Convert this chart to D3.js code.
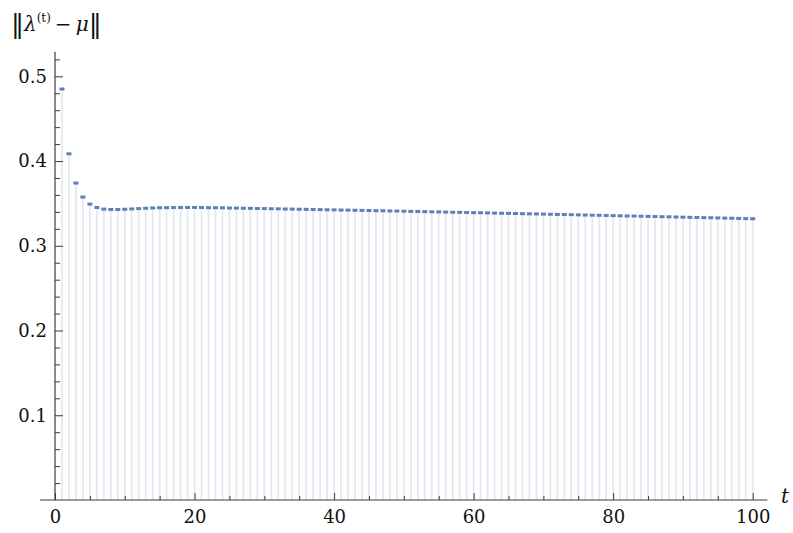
<!DOCTYPE html>
<html>
<head>
<meta charset="utf-8">
<script src="https://cdn.jsdelivr.net/npm/d3@7"></script>
<style>
  html, body { margin: 0; padding: 0; background: #fff; }
  svg { display: block; }
</style>
</head>
<body>
<svg id="chart" width="793" height="533"></svg>
<script>
// Distance ‖λ(t) − μ‖ per iteration t
const steps = d3.range(1, 101);
const distances = [
  0.4850, 0.4085, 0.3740, 0.3575, 0.3492, 0.3452, 0.3433, 0.3428, 0.3428, 0.3431,
  0.3435, 0.3439, 0.3443, 0.3446, 0.3449, 0.3450, 0.3451, 0.3452, 0.3452, 0.3452,
  0.3451, 0.3450, 0.3449, 0.3448, 0.3446, 0.3445, 0.3443, 0.3442, 0.3440, 0.3439,
  0.3437, 0.3436, 0.3434, 0.3433, 0.3431, 0.3430, 0.3428, 0.3427, 0.3425, 0.3424,
  0.3422, 0.3421, 0.3419, 0.3418, 0.3416, 0.3414, 0.3413, 0.3411, 0.3410, 0.3408,
  0.3406, 0.3405, 0.3403, 0.3401, 0.3400, 0.3398, 0.3396, 0.3395, 0.3393, 0.3391,
  0.3390, 0.3388, 0.3386, 0.3384, 0.3383, 0.3381, 0.3379, 0.3377, 0.3376, 0.3374,
  0.3372, 0.3370, 0.3369, 0.3367, 0.3365, 0.3363, 0.3361, 0.3360, 0.3358, 0.3356,
  0.3354, 0.3352, 0.3351, 0.3349, 0.3347, 0.3345, 0.3343, 0.3342, 0.3340, 0.3338,
  0.3336, 0.3334, 0.3332, 0.3331, 0.3329, 0.3327, 0.3325, 0.3323, 0.3321, 0.3319
];
const xMajorTicks = [0, 20, 40, 60, 80, 100];
const xMinorTicks = d3.range(5, 100, 5).filter(v => v % 20 !== 0);
const yMajorTicks = [0.1, 0.2, 0.3, 0.4, 0.5];
const yMinorTicks = d3.range(1, 27).map(i => +(i * 0.02).toFixed(2)).filter(v => Math.round(v * 100) % 10 !== 0);

const FONT = "'DejaVu Serif', serif";
const svg = d3.select("#chart");
const x = d3.scaleLinear().domain([0, 100]).range([55, 752.7]);
const y = d3.scaleLinear().domain([0, 0.5]).range([500, 76.3]);

const axisColor = "#3a3a3a";

// stems from the axis to each value
svg.append("g").selectAll("line")
  .data(steps)
  .join("line")
  .attr("x1", d => x(d)).attr("x2", d => x(d))
  .attr("y1", y(0)).attr("y2", (d, i) => y(distances[i]))
  .attr("stroke", "#e4e9f1")
  .attr("stroke-width", 1.8);

// point markers
svg.append("g").selectAll("rect")
  .data(steps)
  .join("rect")
  .attr("x", d => x(d) - 2.5)
  .attr("y", (d, i) => y(distances[i]) - 1.5)
  .attr("width", 5).attr("height", 3)
  .attr("fill", "#5e81b5");

// x axis
const gx = svg.append("g").attr("transform", `translate(0,${y(0)})`);
gx.call(d3.axisBottom(x).tickValues(xMajorTicks).tickFormat(d3.format("d"))
  .tickSizeInner(-7).tickSizeOuter(0).tickPadding(10));
gx.append("g").call(d3.axisBottom(x).tickValues(xMinorTicks).tickFormat("")
  .tickSizeInner(-4).tickSizeOuter(0));
gx.selectAll(".domain").remove();
gx.selectAll(".tick line").attr("stroke", axisColor);
gx.append("line").attr("x1", x(-2.15)).attr("x2", x(102.1))
  .attr("stroke", axisColor).attr("stroke-width", 1.2);

// y axis
const gy = svg.append("g").attr("transform", `translate(${x(0)},0)`);
gy.call(d3.axisLeft(y).tickValues(yMajorTicks).tickFormat(d3.format(".1f"))
  .tickSizeInner(-8).tickSizeOuter(0).tickPadding(8));
gy.append("g").call(d3.axisLeft(y).tickValues(yMinorTicks).tickFormat("")
  .tickSizeInner(-5).tickSizeOuter(0));
gy.selectAll(".domain").remove();
gy.selectAll(".tick line").attr("stroke", axisColor);
gy.append("line").attr("y1", y(0)).attr("y2", y(0.529))
  .attr("stroke", axisColor).attr("stroke-width", 1.2);

svg.selectAll(".tick text")
  .attr("font-family", FONT).attr("font-size", 18).attr("fill", "#111");

// axis labels
svg.append("text")
  .attr("x", 781).attr("y", 503)
  .attr("font-family", FONT).attr("font-style", "italic")
  .attr("font-size", 20).attr("fill", "#111")
  .text("t");

const yl = svg.append("text")
  .attr("x", 11).attr("y", 31)
  .attr("font-family", FONT)
  .attr("font-size", 20).attr("fill", "#111");
yl.append("tspan").attr("font-size", 26).attr("dy", 2).text("\u2016");
yl.append("tspan").attr("dy", -2).attr("font-style", "italic").text("\u03bb");
yl.append("tspan").attr("font-size", 12).attr("dy", -9).text("(t)");
yl.append("tspan").attr("dy", 9).text("\u2009\u2212\u2009");
yl.append("tspan").attr("font-style", "italic").text("\u03bc");
yl.append("tspan").attr("font-size", 26).attr("dy", 2).text("\u2016");
</script>
</body>
</html>
